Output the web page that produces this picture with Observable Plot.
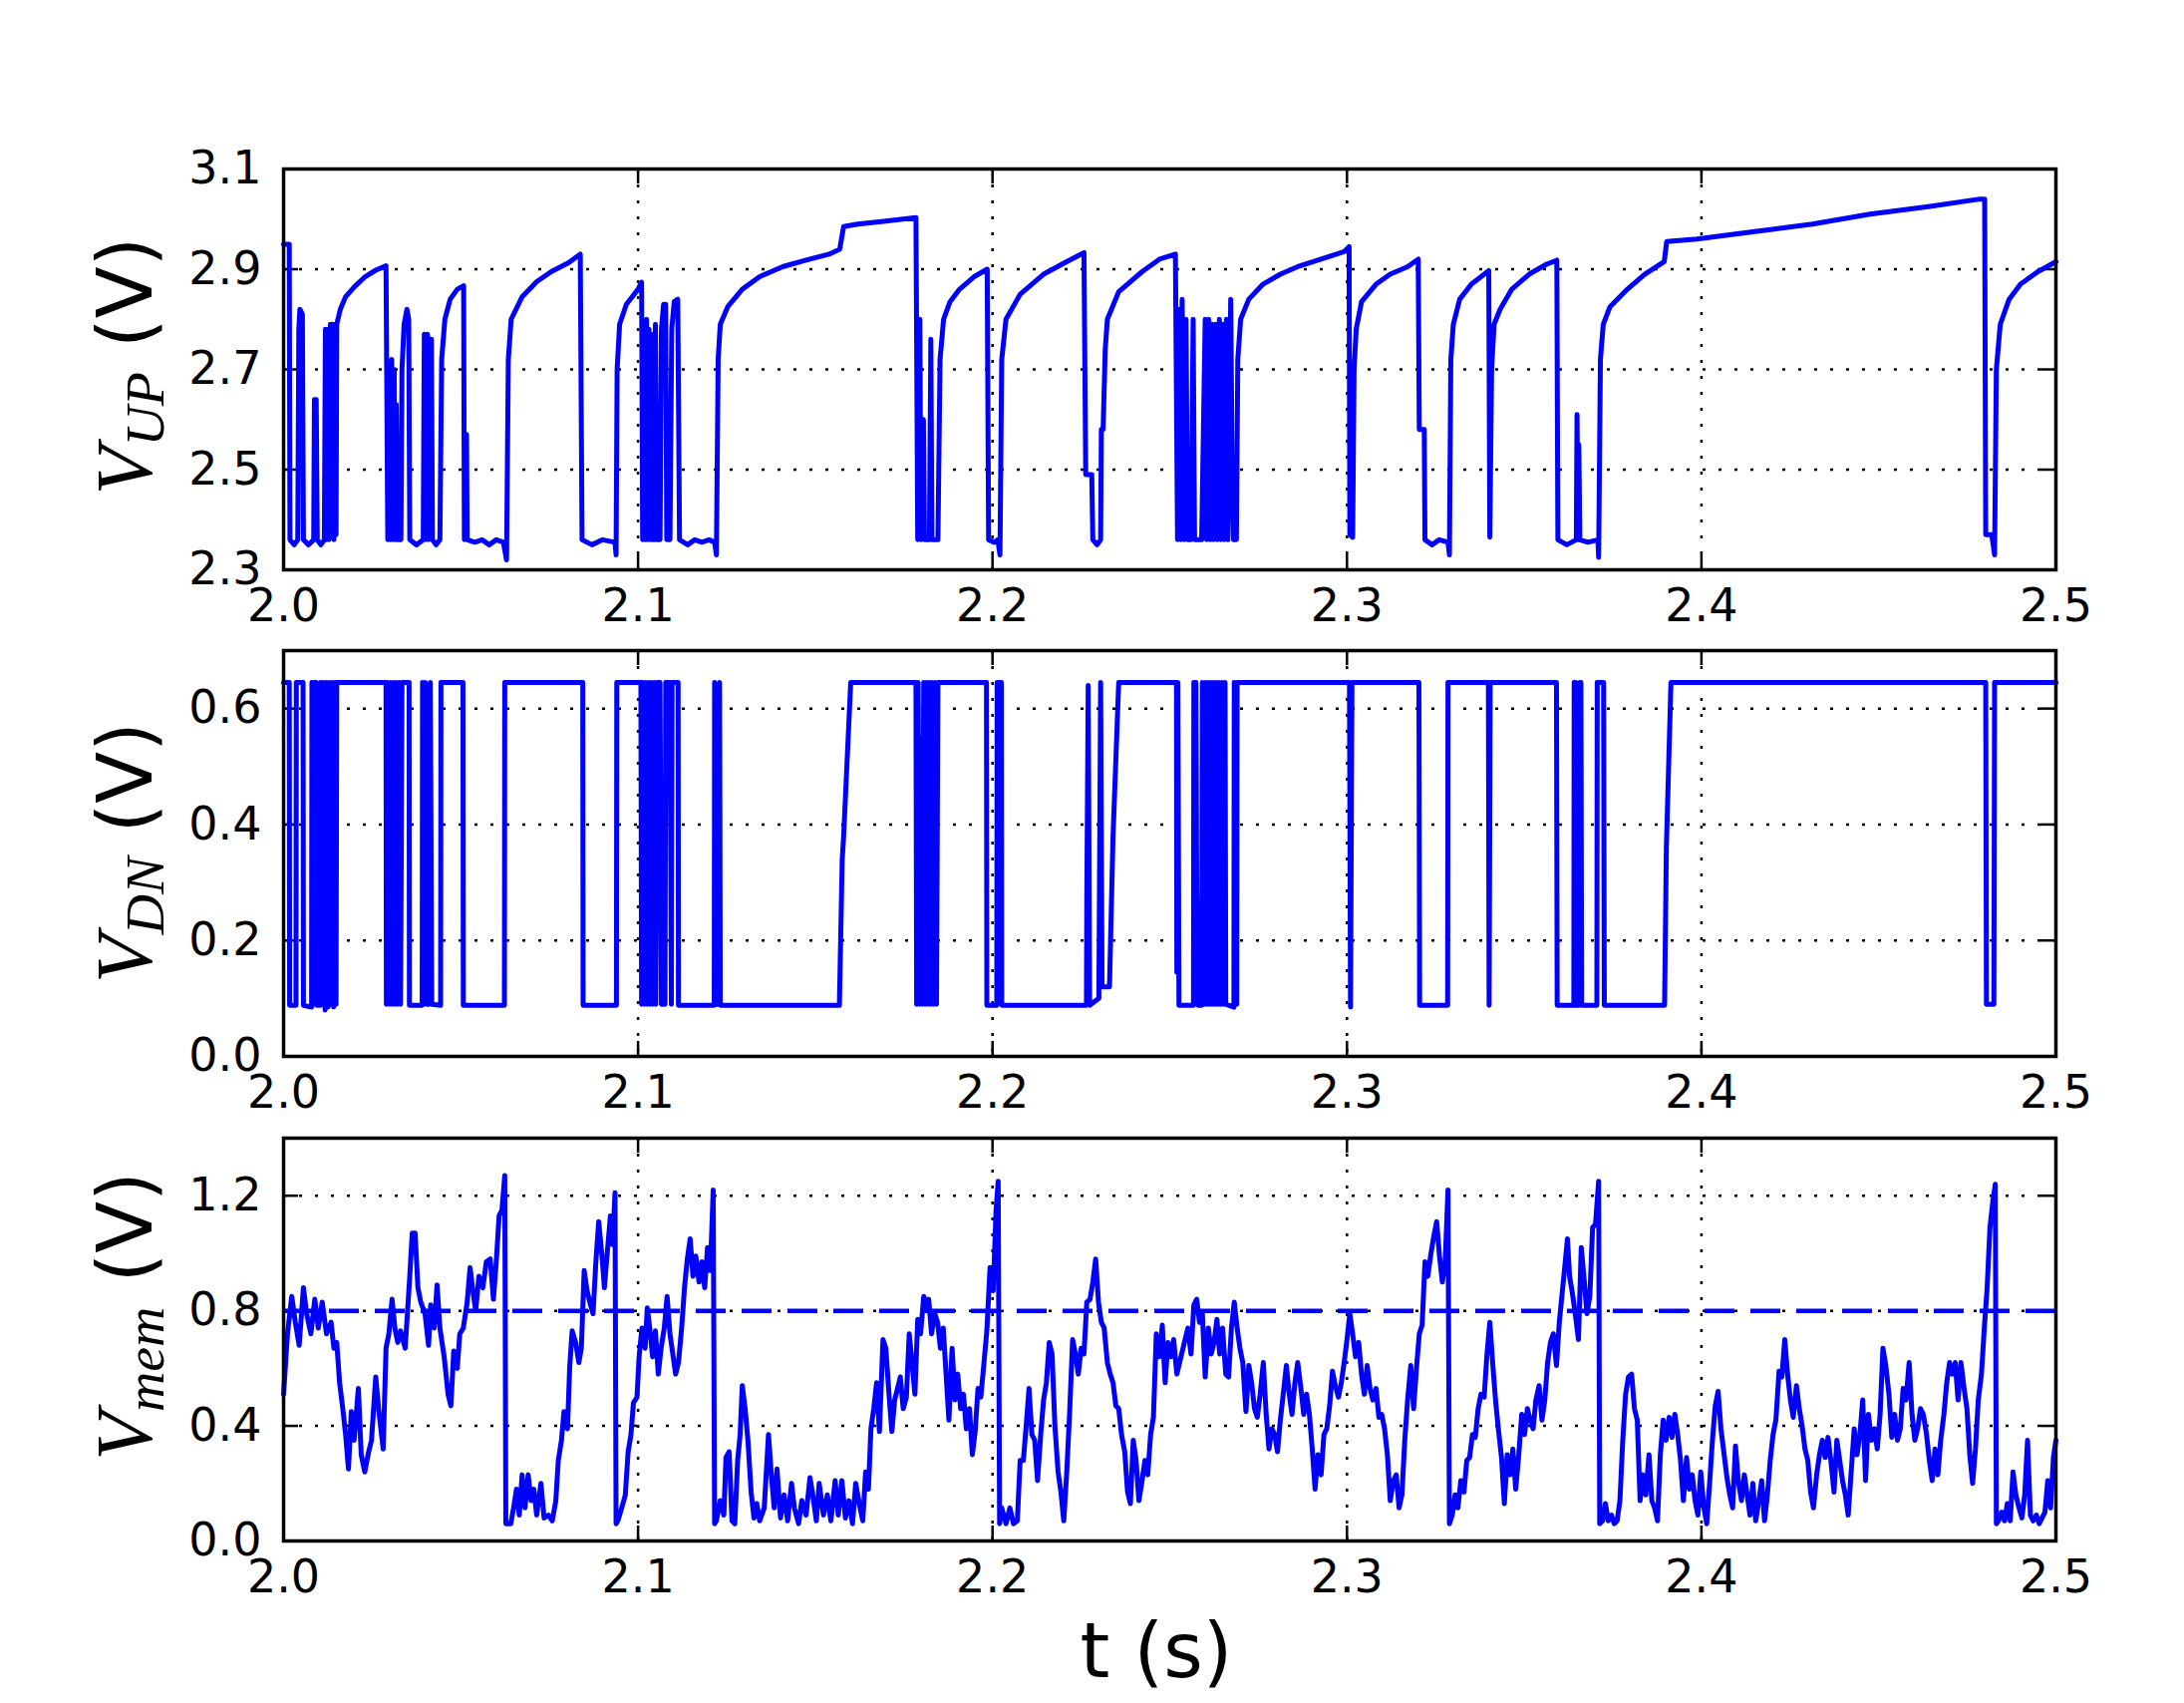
<!DOCTYPE html>
<html><head><meta charset="utf-8">
<script src="https://cdn.jsdelivr.net/npm/d3@7"></script>
<script src="https://cdn.jsdelivr.net/npm/@observablehq/plot@0.6"></script>
<style>
html,body{margin:0;padding:0;background:#fff;}
#fig{position:relative;width:2191px;height:1708px;background:#fff;overflow:hidden;font-family:"DejaVu Sans";}
.ylab{position:absolute;white-space:nowrap;font-size:76px;line-height:1;transform:translate(-50%,-50%) rotate(-90deg);font-family:"DejaVu Sans";color:#000;}
.xlab{position:absolute;white-space:nowrap;font-size:76px;line-height:1;transform:translateX(-50%);font-family:"DejaVu Sans";color:#000;}
.m{font-family:"Liberation Serif";font-style:italic;font-size:1.05em;}
.sub{position:relative;top:0.22em;font-size:0.7em;}
</style></head><body><div id="fig"></div>
<script>
// ---------------- data ----------------
const tDomain = [2.0, 2.5];
const tTicks = [2.0, 2.1, 2.2, 2.3, 2.4, 2.5];
const upDomain = [2.3, 3.1];
const upTicks = [2.3, 2.5, 2.7, 2.9, 3.1];
const dnDomain = [0.0, 0.7];
const dnTicks = [0.0, 0.2, 0.4, 0.6];
const memDomain = [0.0, 1.4];
const memTicks = [0.0, 0.4, 0.8, 1.2];
const memThreshold = 0.8;
const xLabel = "t (s)";

const vUp = [
[2.0000,2.95],[2.0016,2.95],[2.0018,2.36],[2.0030,2.35],[2.0040,2.36],[2.0043,2.78],[2.0046,2.82],[2.0053,2.81],[2.0056,2.36],[2.0070,2.35],[2.0085,2.36],[2.0087,2.64],[2.0092,2.64],[2.0095,2.36],[2.0105,2.35],[2.0115,2.36],
[2.0118,2.78],[2.0121,2.36],[2.0125,2.78],[2.0128,2.36],[2.0132,2.79],[2.0135,2.37],[2.0139,2.79],[2.0142,2.36],[2.0146,2.79],[2.0148,2.37],[2.0150,2.79],
[2.0160,2.82],[2.0175,2.845],[2.0200,2.865],[2.0230,2.885],[2.0260,2.898],[2.0289,2.907],[2.0294,2.36],
[2.0298,2.62],[2.0301,2.36],[2.0305,2.72],[2.0308,2.36],[2.0312,2.70],[2.0315,2.36],[2.0318,2.63],[2.0321,2.36],[2.0331,2.36],[2.0334,2.70],[2.0340,2.79],[2.0348,2.82],[2.0353,2.80],[2.0356,2.36],[2.0375,2.35],[2.0394,2.36],
[2.0397,2.77],[2.0401,2.36],[2.0406,2.77],[2.0409,2.36],[2.0414,2.76],[2.0417,2.76],[2.0420,2.36],[2.0430,2.35],[2.0441,2.36],
[2.0446,2.72],[2.0455,2.80],[2.0470,2.84],[2.0490,2.86],[2.0508,2.867],[2.0510,2.36],[2.0512,2.57],[2.0516,2.57],[2.0518,2.36],[2.0540,2.355],[2.0560,2.36],[2.0580,2.35],[2.0600,2.36],[2.0620,2.355],[2.0629,2.32],
[2.0634,2.72],[2.0642,2.80],[2.0673,2.845],[2.0714,2.875],[2.0755,2.895],[2.0804,2.913],[2.0837,2.93],[2.0842,2.36],[2.0870,2.35],[2.0900,2.36],[2.0935,2.355],[2.0938,2.33],
[2.0941,2.70],[2.0948,2.79],[2.0967,2.83],[2.1000,2.86],[2.1010,2.874],[2.1013,2.36],
[2.1017,2.78],[2.1020,2.36],[2.1024,2.80],[2.1027,2.36],[2.1031,2.78],[2.1034,2.36],[2.1038,2.77],[2.1041,2.36],[2.1046,2.36],[2.1049,2.79],[2.1053,2.36],[2.1062,2.36],[2.1066,2.78],[2.1072,2.83],[2.1078,2.83],[2.1081,2.36],[2.1090,2.36],[2.1095,2.78],[2.1102,2.835],[2.1112,2.84],[2.1117,2.36],
[2.1140,2.35],[2.1160,2.36],[2.1180,2.355],[2.1200,2.36],[2.1216,2.355],[2.1221,2.33],
[2.1226,2.72],[2.1232,2.79],[2.1253,2.825],[2.1294,2.86],[2.1343,2.885],[2.1408,2.905],[2.1474,2.918],[2.1539,2.93],[2.1569,2.94],[2.1580,2.985],[2.1620,2.99],[2.1686,2.995],[2.1784,3.003],[2.1789,2.36],
[2.1795,2.80],[2.1798,2.36],[2.1805,2.60],[2.1808,2.36],[2.1822,2.36],[2.1826,2.76],[2.1829,2.36],[2.1846,2.36],
[2.1852,2.72],[2.1862,2.80],[2.1880,2.835],[2.1907,2.86],[2.1948,2.885],[2.1985,2.90],[2.1989,2.36],[2.2005,2.355],[2.2015,2.36],[2.2021,2.33],
[2.2026,2.72],[2.2038,2.80],[2.2078,2.85],[2.2144,2.89],[2.2209,2.915],[2.2258,2.933],[2.2263,2.49],[2.2280,2.49],[2.2283,2.36],[2.2295,2.35],[2.2305,2.36],[2.2307,2.58],[2.2312,2.58],
[2.2318,2.74],[2.2324,2.80],[2.2356,2.855],[2.2422,2.895],[2.2471,2.92],[2.2516,2.93],[2.2522,2.36],
[2.2527,2.82],[2.2531,2.36],[2.2535,2.84],[2.2540,2.36],[2.2546,2.80],[2.2550,2.36],[2.2560,2.36],[2.2566,2.80],[2.2570,2.36],[2.2590,2.36],[2.2600,2.80],[2.2604,2.36],[2.2610,2.80],[2.2614,2.36],[2.2620,2.79],[2.2624,2.36],[2.2630,2.79],[2.2634,2.36],[2.2640,2.80],[2.2644,2.36],[2.2650,2.79],[2.2654,2.36],[2.2660,2.80],[2.2664,2.36],[2.2672,2.84],[2.2676,2.50],[2.2680,2.36],[2.2688,2.36],
[2.2692,2.72],[2.2700,2.80],[2.2723,2.84],[2.2763,2.87],[2.2812,2.89],[2.2861,2.905],[2.2927,2.92],[2.2992,2.935],[2.3006,2.945],[2.3008,2.37],[2.3016,2.365],
[2.3020,2.70],[2.3026,2.78],[2.3041,2.835],[2.3082,2.87],[2.3122,2.89],[2.3171,2.905],[2.3201,2.92],[2.3204,2.58],[2.3218,2.58],[2.3220,2.36],[2.3240,2.35],[2.3260,2.36],[2.3285,2.355],[2.3289,2.33],
[2.3293,2.72],[2.3300,2.79],[2.3318,2.84],[2.3351,2.87],[2.3400,2.897],[2.3403,2.365],
[2.3408,2.70],[2.3415,2.79],[2.3432,2.82],[2.3465,2.86],[2.3514,2.89],[2.3563,2.91],[2.3592,2.918],[2.3595,2.36],[2.3620,2.35],[2.3647,2.36],[2.3649,2.61],[2.3652,2.36],[2.3654,2.55],[2.3657,2.36],[2.3680,2.355],[2.3708,2.36],[2.3710,2.325],
[2.3715,2.72],[2.3723,2.79],[2.3742,2.825],[2.3791,2.86],[2.3840,2.89],[2.3895,2.915],[2.3902,2.955],[2.3987,2.96],[2.4150,2.975],[2.4313,2.99],[2.4476,3.01],[2.4640,3.025],[2.4786,3.04],[2.4799,3.04],[2.4802,2.37],[2.4819,2.37],[2.4827,2.33],
[2.4832,2.70],[2.4843,2.79],[2.4868,2.84],[2.4900,2.87],[2.4949,2.895],[2.5000,2.915]
];

const vDn = [
[2.0000,0.645],[2.0016,0.645],[2.0017,0.088],[2.0035,0.088],[2.0036,0.645],[2.0055,0.645],[2.0056,0.088],[2.0079,0.085],[2.0080,0.645],[2.0092,0.645],[2.0093,0.088],[2.0104,0.088],
[2.0105,0.645],[2.0109,0.09],[2.0113,0.645],[2.0117,0.08],[2.0121,0.645],[2.0125,0.085],[2.0129,0.645],[2.0133,0.09],[2.0137,0.645],[2.0141,0.085],[2.0145,0.645],[2.0148,0.09],[2.0150,0.645],
[2.0289,0.645],[2.0290,0.09],[2.0294,0.645],[2.0298,0.09],[2.0302,0.645],[2.0306,0.09],[2.0310,0.645],[2.0314,0.09],[2.0318,0.645],[2.0322,0.09],[2.0326,0.645],[2.0330,0.09],[2.0334,0.645],[2.0354,0.645],[2.0355,0.088],[2.0391,0.088],
[2.0392,0.645],[2.0396,0.09],[2.0400,0.645],[2.0404,0.09],[2.0410,0.09],[2.0414,0.645],[2.0418,0.09],[2.0443,0.088],[2.0444,0.645],[2.0506,0.645],[2.0507,0.088],[2.0623,0.088],[2.0624,0.645],[2.0844,0.645],[2.0845,0.088],[2.0939,0.088],[2.0940,0.645],
[2.1008,0.645],[2.1010,0.09],[2.1014,0.645],[2.1018,0.09],[2.1022,0.645],[2.1026,0.09],[2.1030,0.645],[2.1034,0.09],[2.1038,0.645],[2.1042,0.09],[2.1046,0.645],[2.1050,0.09],[2.1054,0.645],[2.1062,0.645],[2.1066,0.09],[2.1076,0.09],[2.1078,0.645],[2.1090,0.645],[2.1094,0.09],[2.1096,0.645],[2.1113,0.645],[2.1114,0.088],
[2.1215,0.088],[2.1216,0.645],[2.1220,0.09],[2.1228,0.09],[2.1230,0.645],[2.1232,0.088],[2.1568,0.088],[2.1576,0.34],[2.1580,0.38],[2.1600,0.645],
[2.1784,0.645],[2.1786,0.09],[2.1790,0.645],[2.1794,0.09],[2.1798,0.55],[2.1802,0.09],[2.1806,0.645],[2.1810,0.09],[2.1814,0.645],[2.1818,0.09],[2.1822,0.645],[2.1826,0.09],[2.1830,0.645],[2.1834,0.09],[2.1838,0.645],[2.1842,0.09],[2.1846,0.645],
[2.1983,0.645],[2.1984,0.088],[2.2012,0.088],[2.2013,0.645],[2.2025,0.645],[2.2026,0.088],[2.2265,0.088],[2.2266,0.27],[2.2270,0.64],[2.2274,0.088],[2.2300,0.10],[2.2305,0.645],[2.2309,0.12],[2.2330,0.12],[2.2340,0.38],[2.2356,0.645],
[2.2519,0.645],[2.2520,0.145],[2.2523,0.645],[2.2526,0.088],[2.2567,0.088],[2.2568,0.645],[2.2574,0.645],[2.2576,0.29],[2.2580,0.088],[2.2590,0.088],[2.2592,0.645],[2.2596,0.09],[2.2600,0.645],[2.2604,0.09],[2.2608,0.645],[2.2612,0.09],[2.2616,0.645],[2.2620,0.09],[2.2624,0.645],[2.2628,0.09],[2.2632,0.645],[2.2636,0.09],[2.2640,0.645],[2.2644,0.09],[2.2648,0.645],[2.2652,0.09],[2.2656,0.645],[2.2658,0.09],[2.2681,0.085],[2.2682,0.645],[2.2686,0.09],[2.2689,0.09],[2.2690,0.645],
[2.3007,0.645],[2.3010,0.085],[2.3014,0.645],[2.3203,0.645],[2.3205,0.088],[2.3284,0.088],[2.3285,0.645],[2.3399,0.645],[2.3401,0.088],[2.3404,0.645],[2.3591,0.645],[2.3593,0.088],[2.3640,0.088],[2.3641,0.645],[2.3645,0.645],[2.3647,0.088],[2.3655,0.088],[2.3657,0.645],[2.3660,0.645],[2.3662,0.088],[2.3705,0.088],[2.3706,0.645],[2.3724,0.645],[2.3726,0.088],[2.3896,0.088],[2.3901,0.36],[2.3914,0.645],
[2.4802,0.645],[2.4804,0.09],[2.4825,0.09],[2.4827,0.645],[2.5000,0.645]
];

const vMem = [
[2.0000,0.51],[2.0011,0.72],[2.0023,0.85],[2.0033,0.76],[2.0044,0.68],[2.0056,0.88],[2.0065,0.79],[2.0077,0.72],[2.0088,0.84],[2.0098,0.74],[2.0109,0.83],[2.0121,0.72],[2.0134,0.76],[2.0142,0.67],[2.0150,0.69],[2.0158,0.55],[2.0167,0.46],[2.0175,0.37],[2.0183,0.25],[2.0191,0.45],[2.0199,0.35],[2.0211,0.53],[2.0219,0.30],[2.0229,0.24],[2.0240,0.31],[2.0248,0.35],[2.0260,0.57],[2.0268,0.46],[2.0281,0.32],[2.0289,0.67],[2.0297,0.72],[2.0306,0.84],[2.0314,0.74],[2.0322,0.69],[2.0330,0.73],[2.0343,0.67],[2.0355,0.90],[2.0363,1.07],[2.0371,1.07],[2.0379,0.88],[2.0387,0.83],[2.0399,0.79],[2.0409,0.68],[2.0415,0.82],[2.0425,0.74],[2.0433,0.89],[2.0441,0.74],[2.0453,0.64],[2.0464,0.51],[2.0472,0.47],[2.0480,0.66],[2.0490,0.60],[2.0497,0.72],[2.0507,0.74],[2.0518,0.83],[2.0526,0.95],[2.0534,0.87],[2.0542,0.80],[2.0551,0.92],[2.0562,0.88],[2.0572,0.97],[2.0583,0.98],[2.0592,0.84],[2.0600,0.97],[2.0608,1.13],[2.0616,1.15],[2.0624,1.27],
[2.0627,0.06],[2.0641,0.06],[2.0649,0.115],[2.0657,0.18],[2.0665,0.09],[2.0673,0.23],[2.0681,0.115],[2.0690,0.23],[2.0698,0.14],[2.0706,0.18],[2.0714,0.09],[2.0726,0.20],[2.0735,0.08],[2.0747,0.09],[2.0758,0.07],[2.0768,0.14],[2.0775,0.28],[2.0784,0.35],[2.0791,0.45],[2.0801,0.39],[2.0807,0.60],[2.0814,0.73],[2.0824,0.69],[2.0833,0.62],[2.0840,0.67],[2.0848,0.94],[2.0856,0.87],[2.0866,0.82],[2.0873,0.79],[2.0881,0.97],[2.0889,1.11],[2.0899,0.98],[2.0905,0.88],[2.0913,1.00],[2.0922,1.13],[2.0928,1.03],[2.0935,1.21],
[2.0938,0.06],[2.0943,0.07],[2.0954,0.115],[2.0964,0.16],[2.0972,0.31],[2.0980,0.37],[2.0987,0.48],[2.0997,0.50],[2.1003,0.64],[2.1011,0.74],[2.1020,0.67],[2.1026,0.81],[2.1033,0.74],[2.1041,0.64],[2.1049,0.73],[2.1057,0.58],[2.1065,0.67],[2.1074,0.74],[2.1082,0.85],[2.1090,0.72],[2.1098,0.65],[2.1106,0.58],[2.1114,0.62],[2.1123,0.74],[2.1131,0.88],[2.1139,0.98],[2.1147,1.05],[2.1155,0.92],[2.1163,0.99],[2.1172,0.90],[2.1180,0.97],[2.1188,0.88],[2.1196,1.02],[2.1204,0.94],[2.1212,1.22],
[2.1216,0.06],[2.1221,0.07],[2.1232,0.14],[2.1242,0.09],[2.1248,0.29],[2.1257,0.31],[2.1265,0.07],[2.1273,0.06],[2.1281,0.28],[2.1288,0.37],[2.1294,0.54],[2.1302,0.46],[2.1310,0.35],[2.1319,0.17],[2.1327,0.08],[2.1335,0.13],[2.1343,0.07],[2.1356,0.115],[2.1368,0.37],[2.1376,0.23],[2.1384,0.115],[2.1392,0.25],[2.1402,0.08],[2.1412,0.16],[2.1422,0.07],[2.1433,0.20],[2.1441,0.115],[2.1453,0.06],[2.1462,0.14],[2.1474,0.09],[2.1485,0.22],[2.1493,0.16],[2.1503,0.07],[2.1511,0.20],[2.1523,0.09],[2.1534,0.16],[2.1544,0.07],[2.1556,0.21],[2.1565,0.09],[2.1575,0.21],[2.1585,0.08],[2.1595,0.14],[2.1605,0.06],[2.1614,0.20],[2.1624,0.13],[2.1634,0.07],[2.1642,0.24],[2.1650,0.18],[2.1657,0.39],[2.1665,0.46],[2.1673,0.55],[2.1681,0.38],[2.1691,0.70],[2.1699,0.67],[2.1708,0.51],[2.1716,0.38],[2.1724,0.49],[2.1732,0.53],[2.1740,0.57],[2.1748,0.46],[2.1757,0.50],[2.1765,0.72],[2.1773,0.62],[2.1781,0.51],[2.1789,0.77],[2.1797,0.72],[2.1806,0.85],[2.1814,0.81],[2.1820,0.84],[2.1828,0.72],[2.1837,0.79],[2.1845,0.76],[2.1853,0.67],[2.1861,0.74],[2.1869,0.58],[2.1877,0.42],[2.1886,0.67],[2.1894,0.49],[2.1902,0.58],[2.1910,0.46],[2.1918,0.51],[2.1926,0.39],[2.1935,0.46],[2.1943,0.30],[2.1951,0.38],[2.1959,0.53],[2.1967,0.50],[2.1976,0.62],[2.1984,0.73],[2.1993,0.95],[2.2002,0.87],[2.2010,1.15],[2.2016,1.25],
[2.2020,0.06],[2.2026,0.115],[2.2038,0.06],[2.2049,0.115],[2.2059,0.06],[2.2070,0.07],[2.2078,0.28],[2.2087,0.28],[2.2095,0.40],[2.2103,0.53],[2.2111,0.37],[2.2119,0.35],[2.2127,0.21],[2.2136,0.37],[2.2144,0.49],[2.2152,0.55],[2.2160,0.69],[2.2168,0.65],[2.2176,0.40],[2.2185,0.24],[2.2193,0.17],[2.2201,0.07],[2.2209,0.23],[2.2217,0.43],[2.2226,0.70],[2.2234,0.65],[2.2242,0.58],[2.2250,0.67],[2.2258,0.65],[2.2266,0.83],[2.2275,0.84],[2.2283,0.90],[2.2291,0.98],[2.2299,0.83],[2.2307,0.76],[2.2315,0.74],[2.2324,0.62],[2.2332,0.58],[2.2340,0.55],[2.2348,0.47],[2.2356,0.46],[2.2364,0.37],[2.2373,0.31],[2.2381,0.17],[2.2389,0.13],[2.2397,0.35],[2.2405,0.28],[2.2413,0.14],[2.2422,0.21],[2.2430,0.28],[2.2438,0.23],[2.2446,0.37],[2.2454,0.43],[2.2462,0.72],[2.2471,0.64],[2.2479,0.75],[2.2487,0.55],[2.2495,0.69],[2.2503,0.64],[2.2511,0.70],[2.2520,0.58],
[2.2551,0.74],[2.2560,0.65],[2.2568,0.82],[2.2576,0.84],[2.2584,0.76],[2.2592,0.79],[2.2600,0.57],[2.2609,0.74],[2.2617,0.65],[2.2625,0.69],[2.2633,0.77],[2.2641,0.65],[2.2649,0.74],[2.2658,0.58],[2.2666,0.57],[2.2674,0.74],[2.2682,0.83],[2.2690,0.74],[2.2698,0.67],[2.2706,0.62],[2.2715,0.45],[2.2723,0.61],[2.2731,0.55],[2.2739,0.46],[2.2747,0.43],[2.2755,0.51],[2.2764,0.62],[2.2772,0.44],[2.2780,0.32],[2.2788,0.39],[2.2796,0.37],[2.2804,0.31],[2.2812,0.42],[2.2821,0.52],[2.2829,0.61],[2.2837,0.51],[2.2845,0.44],[2.2853,0.55],[2.2861,0.62],[2.2870,0.53],[2.2878,0.44],[2.2886,0.51],[2.2894,0.44],[2.2902,0.32],[2.2910,0.18],[2.2918,0.30],[2.2927,0.23],[2.2935,0.37],[2.2943,0.39],[2.2951,0.47],[2.2959,0.59],[2.2967,0.54],[2.2976,0.50],[2.2984,0.55],[2.2992,0.62],[2.3000,0.70],[2.3008,0.79],[2.3016,0.72],[2.3024,0.64],[2.3033,0.69],[2.3041,0.58],[2.3049,0.51],[2.3057,0.61],[2.3065,0.53],[2.3073,0.49],[2.3082,0.53],[2.3090,0.43],[2.3098,0.44],[2.3106,0.39],[2.3114,0.30],[2.3122,0.14],[2.3131,0.21],[2.3139,0.23],[2.3147,0.115],[2.3155,0.16],[2.3163,0.35],[2.3171,0.49],[2.3180,0.61],[2.3188,0.46],[2.3196,0.60],[2.3204,0.72],[2.3212,0.75],[2.3220,0.97],[2.3228,0.92],[2.3237,1.00],[2.3245,1.06],[2.3253,1.11],[2.3261,0.99],[2.3269,0.90],[2.3277,0.97],[2.3285,1.22],
[2.3289,0.06],[2.3297,0.09],[2.3305,0.16],[2.3313,0.115],[2.3321,0.21],[2.3330,0.17],[2.3338,0.28],[2.3346,0.29],[2.3354,0.37],[2.3362,0.36],[2.3370,0.46],[2.3378,0.51],[2.3387,0.50],[2.3395,0.65],[2.3403,0.76],[2.3411,0.62],[2.3419,0.49],[2.3427,0.39],[2.3436,0.29],[2.3444,0.13],[2.3452,0.30],[2.3460,0.23],[2.3468,0.32],[2.3476,0.18],[2.3484,0.29],[2.3493,0.44],[2.3501,0.37],[2.3509,0.46],[2.3517,0.42],[2.3525,0.39],[2.3533,0.49],[2.3542,0.54],[2.3550,0.42],[2.3558,0.49],[2.3566,0.62],[2.3574,0.69],[2.3582,0.72],[2.3591,0.61],[2.3599,0.76],[2.3607,0.86],[2.3615,0.96],[2.3622,1.05],[2.3628,0.92],[2.3636,0.86],[2.3644,0.79],[2.3653,0.70],[2.3661,1.02],[2.3669,0.91],[2.3677,0.79],[2.3685,0.85],[2.3693,1.09],[2.3701,1.10],[2.3710,1.25],
[2.3713,0.06],[2.3721,0.07],[2.3729,0.13],[2.3737,0.07],[2.3746,0.09],[2.3754,0.06],[2.3762,0.07],[2.3770,0.14],[2.3778,0.35],[2.3786,0.51],[2.3794,0.57],[2.3803,0.58],[2.3811,0.46],[2.3819,0.42],[2.3827,0.14],[2.3835,0.23],[2.3843,0.16],[2.3852,0.30],[2.3860,0.14],[2.3868,0.115],[2.3876,0.07],[2.3884,0.30],[2.3892,0.42],[2.3900,0.35],[2.3909,0.43],[2.3917,0.36],[2.3925,0.44],[2.3933,0.37],[2.3941,0.28],[2.3949,0.14],[2.3958,0.29],[2.3966,0.18],[2.3974,0.23],[2.3982,0.14],[2.3990,0.09],[2.3998,0.24],[2.4007,0.115],[2.4015,0.06],[2.4023,0.20],[2.4031,0.35],[2.4039,0.47],[2.4047,0.52],[2.4055,0.39],[2.4064,0.30],[2.4072,0.22],[2.4080,0.16],[2.4088,0.115],[2.4096,0.33],[2.4104,0.21],[2.4113,0.14],[2.4121,0.23],[2.4129,0.16],[2.4137,0.09],[2.4145,0.20],[2.4153,0.07],[2.4162,0.14],[2.4170,0.21],[2.4178,0.07],[2.4186,0.16],[2.4194,0.28],[2.4202,0.37],[2.4210,0.42],[2.4219,0.59],[2.4227,0.57],[2.4235,0.70],[2.4243,0.58],[2.4251,0.49],[2.4259,0.43],[2.4268,0.54],[2.4276,0.46],[2.4284,0.40],[2.4292,0.32],[2.4300,0.28],[2.4308,0.17],[2.4316,0.115],[2.4325,0.23],[2.4333,0.30],[2.4341,0.35],[2.4349,0.29],[2.4357,0.36],[2.4365,0.28],[2.4374,0.17],[2.4382,0.35],[2.4390,0.28],[2.4398,0.21],[2.4406,0.16],[2.4414,0.09],[2.4423,0.25],[2.4431,0.39],[2.4439,0.30],[2.4447,0.37],[2.4455,0.49],[2.4463,0.21],[2.4471,0.44],[2.4480,0.35],[2.4488,0.39],[2.4496,0.32],[2.4504,0.44],[2.4512,0.67],[2.4520,0.61],[2.4529,0.51],[2.4537,0.36],[2.4545,0.44],[2.4553,0.35],[2.4561,0.39],[2.4569,0.53],[2.4577,0.49],[2.4586,0.62],[2.4594,0.44],[2.4602,0.35],[2.4610,0.39],[2.4618,0.46],[2.4626,0.44],[2.4635,0.37],[2.4643,0.28],[2.4651,0.21],[2.4659,0.32],[2.4667,0.23],[2.4675,0.35],[2.4684,0.44],[2.4692,0.55],[2.4700,0.62],[2.4708,0.58],[2.4716,0.62],[2.4724,0.49],[2.4732,0.62],[2.4741,0.53],[2.4749,0.46],[2.4757,0.30],[2.4765,0.20],[2.4773,0.32],[2.4781,0.49],[2.4790,0.58],[2.4798,0.74],[2.4806,0.88],[2.4814,1.09],[2.4822,1.18],[2.4829,1.24],
[2.4832,0.06],[2.4838,0.07],[2.4847,0.10],[2.4855,0.07],[2.4863,0.13],[2.4871,0.07],[2.4879,0.24],[2.4887,0.16],[2.4896,0.115],[2.4904,0.08],[2.4912,0.16],[2.4920,0.35],[2.4928,0.09],[2.4936,0.07],[2.4945,0.09],[2.4953,0.06],[2.4961,0.08],[2.4969,0.10],[2.4977,0.21],[2.4985,0.115],[2.4993,0.29],[2.5000,0.35]
];

// ---------------- layout ----------------
const W = 2191;
const FL = 284, FR = 2062;
const TICK = 15;
const MT = 40, MB = 100;
const fig = document.getElementById("fig");
const fmt = d3.format(".1f");

function panel(data, yDomain, yTicks, top, bottom, extra) {
  const innerW = FR - FL, innerH = bottom - top;
  const grid = {stroke: "#000", strokeOpacity: 1, strokeWidth: 2.5, strokeDasharray: "3,13"};
  const tk = {stroke: "#000", strokeOpacity: 1, strokeWidth: 2.5};
  const svg = Plot.plot({
    width: W, height: innerH + MT + MB,
    marginLeft: FL, marginRight: W - FR, marginTop: MT, marginBottom: MB,
    style: {fontFamily: "DejaVu Sans", fontSize: "46px", color: "#000", background: "transparent", overflow: "visible"},
    x: {domain: tDomain, ticks: tTicks, tickFormat: fmt, tickSize: 0, tickPadding: 19, label: null},
    y: {domain: yDomain, ticks: yTicks, tickFormat: fmt, tickSize: 0, tickPadding: 22, label: null},
    marks: [
      Plot.ruleY(yTicks, grid),
      Plot.ruleX(tTicks, grid),
      Plot.tickY(yTicks, {y: d => d, ...tk, insetRight: innerW - TICK}),
      Plot.tickY(yTicks, {y: d => d, ...tk, insetLeft: innerW - TICK}),
      Plot.tickX(tTicks, {x: d => d, ...tk, insetTop: innerH - TICK}),
      Plot.tickX(tTicks, {x: d => d, ...tk, insetBottom: innerH - TICK}),
      Plot.line(data, {x: d => d[0], y: d => d[1], stroke: "#0000ff", strokeWidth: 5}),
      ...(extra || []),
      Plot.frame({stroke: "#000", strokeWidth: 3.5})
    ]
  });
  svg.style.position = "absolute";
  svg.style.left = "0px";
  svg.style.top = (top - MT) + "px";
  fig.appendChild(svg);
}

panel(vUp, upDomain, upTicks, 169, 571);
panel(vDn, dnDomain, dnTicks, 652, 1059);
panel(vMem, memDomain, memTicks, 1141, 1545, [
  Plot.ruleY([memThreshold], {stroke: "#0000ff", strokeWidth: 4.5, strokeDasharray: "30,16"})
]);

function ylab(html, x, y) {
  const d = document.createElement("div");
  d.className = "ylab";
  d.style.left = x + "px";
  d.style.top = y + "px";
  d.innerHTML = html;
  fig.appendChild(d);
}
ylab('<span class="m">V<span class="sub">UP</span></span> (V)', 126, 367);
ylab('<span class="m">V<span class="sub">DN</span></span> (V)', 126, 855);
ylab('<span class="m">V<span class="sub">mem</span></span> (V)', 126, 1320);

const xl = document.createElement("div");
xl.className = "xlab";
xl.style.left = "1160px";
xl.style.top = "1618px";
xl.textContent = xLabel;
fig.appendChild(xl);
</script></body></html>
